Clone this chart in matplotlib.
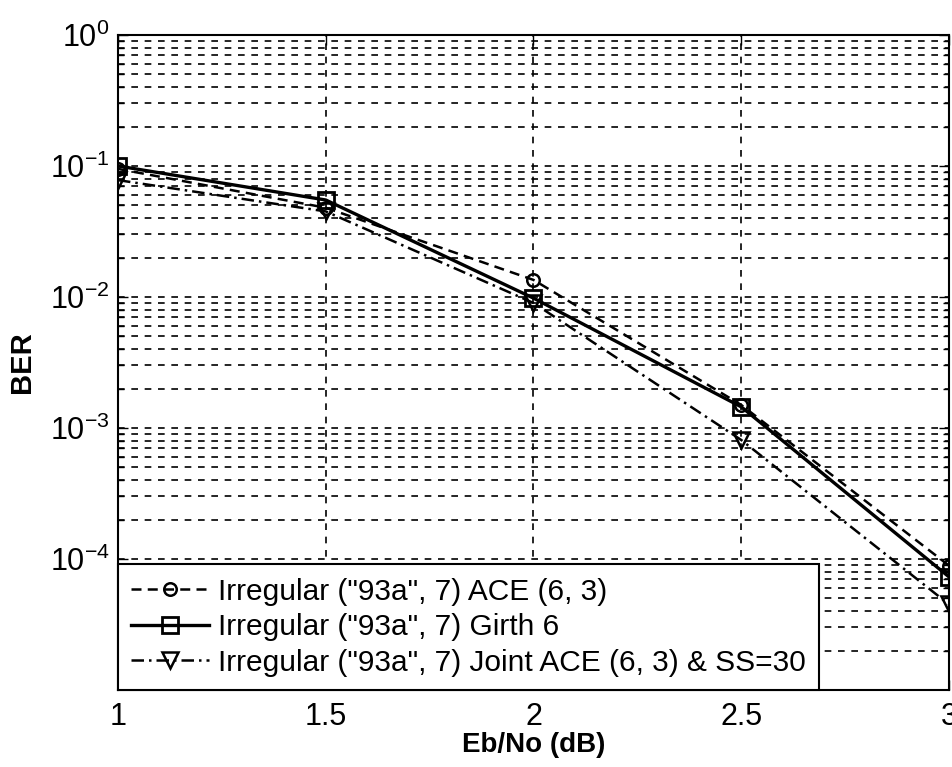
import matplotlib
matplotlib.use("Agg")
import matplotlib.pyplot as plt
from matplotlib.ticker import LogLocator, FixedLocator, NullFormatter

fam = 'Liberation Sans'
plt.rcParams['font.family'] = [fam, 'DejaVu Sans']
plt.rcParams['mathtext.fontset'] = 'custom'
plt.rcParams['mathtext.rm'] = fam
plt.rcParams['mathtext.it'] = fam
plt.rcParams['mathtext.bf'] = fam + ':bold'

ebno = [1.0, 1.5, 2.0, 2.5, 3.0]
ber_ace = [0.095, 0.048, 0.0135, 0.0015, 8.9e-5]
ber_girth = [0.1, 0.055, 0.0098, 0.00145, 7.3e-5]
ber_joint = [0.078, 0.045, 0.009, 8.1e-4, 4.5e-5]
labels = ['Irregular ("93a", 7) ACE (6, 3)',
          'Irregular ("93a", 7) Girth 6',
          'Irregular ("93a", 7) Joint ACE (6, 3) & SS=30']
xticks = [1, 1.5, 2, 2.5, 3]
xticklabels = ['1', '1.5', '2', '2.5', '3']
yticks = [1e-4, 1e-3, 1e-2, 1e-1, 1e0]
yticklabels = [r'$10^{-4}$', r'$10^{-3}$', r'$10^{-2}$', r'$10^{-1}$', r'$10^{0}$']

fig = plt.figure(figsize=(9.53, 7.67), dpi=100)
ax = fig.add_axes([0.1238, 0.1004, 0.8720, 0.854])

ax.plot(ebno, ber_ace, color='black', linestyle=(0, (4, 2.5)), lw=1.8,
        marker='o', ms=9, mfc='none', mew=1.8, label=labels[0])
ax.plot(ebno, ber_girth, color='black', linestyle='-', lw=2.4,
        marker='s', ms=11, mfc='none', mew=2.0, label=labels[1])
ax.plot(ebno, ber_joint, color='black', linestyle=(0, (5, 2, 1, 2)), lw=1.8,
        marker='v', ms=11, mfc='none', mew=1.8, label=labels[2])

ax.set_yscale('log')
ax.set_xlim(1, 3)
ax.set_ylim(1e-5, 1)
ax.xaxis.set_major_locator(FixedLocator(xticks))
ax.set_xticklabels(xticklabels)
ax.yaxis.set_major_locator(FixedLocator(yticks))
ax.set_yticklabels(yticklabels)
ax.yaxis.set_minor_locator(LogLocator(base=10, subs=range(2, 10), numticks=20))
ax.yaxis.set_minor_formatter(NullFormatter())

ax.grid(True, which='major', color='black', linestyle=(0, (4, 4)), lw=1.2)
ax.grid(True, which='minor', axis='y', color='black', linestyle=(0, (4, 4)), lw=1.2)

ax.tick_params(which='both', direction='in', top=True, right=True, labelsize=22,
               width=1.0, color='black')
ax.tick_params(which='major', length=7)
ax.tick_params(which='minor', length=4)
ax.tick_params(axis='x', pad=9)
ax.tick_params(axis='y', pad=6)
for s in ax.spines.values():
    s.set_linewidth(1.5)
    s.set_color('black')

ax.set_xlabel('Eb/No (dB)', fontsize=20, fontweight='bold', labelpad=0)
ax.set_ylabel('BER', fontsize=21, fontweight='bold', labelpad=10)

leg = ax.legend(loc='lower left', fontsize=21.5, frameon=True, fancybox=False,
                framealpha=1, edgecolor='black', borderaxespad=0,
                handlelength=2.6, handletextpad=0.3, labelspacing=0.25,
                borderpad=0.45)
leg.get_frame().set_linewidth(1.5)

fig.savefig('out.png', dpi=100, facecolor='white')
